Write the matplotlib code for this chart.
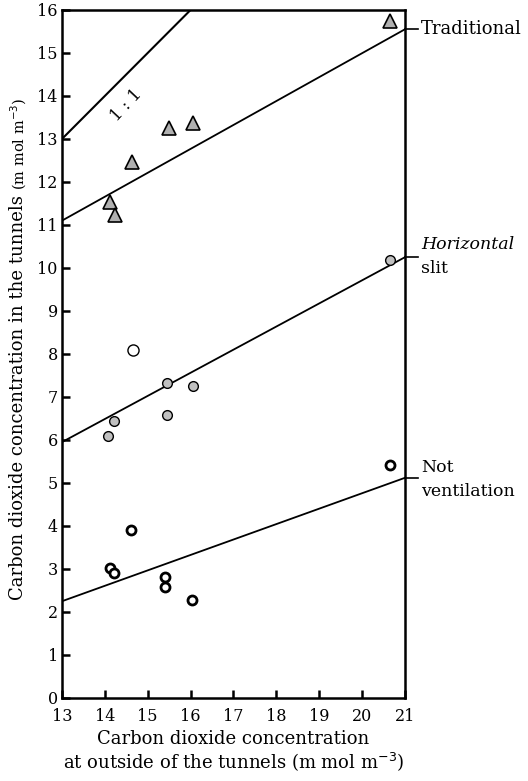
import matplotlib.pyplot as plt

plt.rcParams['font.family'] = ['DejaVu Serif']

# outside CO2 (x) vs CO2 in the tunnels (y), m mol m-3
trad_x = [14.12, 14.24, 14.63, 15.5, 16.05, 20.65]
trad_y = [11.53, 11.23, 12.47, 13.26, 13.37, 15.75]

slit_x = [14.08, 14.22, 15.44, 15.44, 16.06, 20.65]
slit_y = [6.09, 6.43, 6.57, 7.33, 7.26, 10.19]
slit_open_x = [14.65]
slit_open_y = [8.09]

notv_x = [14.12, 14.22, 14.61, 15.41, 15.41, 16.04, 20.65]
notv_y = [3.03, 2.90, 3.91, 2.82, 2.59, 2.29, 5.42]

# fitted lines, read at x = 13 and x = 21
line_x = [13, 21]
trad_line = [11.1, 15.55]
slit_line = [5.95, 10.25]
notv_line = [2.25, 5.12]
one_x = [13, 16.1]
one_y = [13, 16.1]

fig = plt.figure(figsize=(5.28, 7.81), dpi=100)
ax = fig.add_axes([0.1174, 0.1063, 0.6496, 0.881])

ax.plot(one_x, one_y, color='black', lw=1.5)
ax.plot(line_x, trad_line, color='black', lw=1.3)
ax.plot(line_x, slit_line, color='black', lw=1.3)
ax.plot(line_x, notv_line, color='black', lw=1.3)

ax.plot(trad_x, trad_y, '^', ms=10.5, mfc='#b0b0b0', mec='black', mew=1.2)
ax.plot(slit_x, slit_y, 'o', ms=7, mfc='#c0c0c0', mec='black', mew=1.0)
ax.plot(slit_open_x, slit_open_y, 'o', ms=8, mfc='white', mec='black', mew=1.0)
ax.plot(notv_x, notv_y, 'o', ms=6.5, mfc='white', mec='black', mew=2.0)

ax.text(14.51, 13.79, '1 : 1', rotation=47, ha='center', va='center', fontsize=12)

ax.set_xlim(13, 21)
ax.set_ylim(0, 16)
ax.set_xticks(range(13, 22))
ax.set_yticks(range(0, 17))
ax.tick_params(direction='in', length=6, width=1.8, labelsize=11.5, pad=3)
ax.tick_params(axis='x', pad=7)
for s in ax.spines.values():
    s.set_linewidth(1.8)

# labels to the right of the plot with short leader ticks
for yv in [trad_line[1], slit_line[1], notv_line[1]]:
    ax.plot([21, 21.3], [yv, yv], color='black', lw=1.2, clip_on=False)
ax.text(21.38, trad_line[1], 'Traditional', ha='left', va='center', fontsize=13)
ax.text(21.38, slit_line[1] + 0.3, 'Horizontal', ha='left', va='center', fontsize=12.5, style='italic')
ax.text(21.38, slit_line[1] - 0.27, 'slit', ha='left', va='center', fontsize=12.5)
ax.text(21.38, notv_line[1] + 0.25, 'Not', ha='left', va='center', fontsize=12.5)
ax.text(21.38, notv_line[1] - 0.33, 'ventilation', ha='left', va='center', fontsize=12.5)

ax.set_xlabel('Carbon dioxide concentration\nat outside of the tunnels (m mol m$^{-3}$)', fontsize=13, linespacing=1.1)

# y label: main part larger, units smaller
ymain = ax.text(-0.127, 0.142, 'Carbon dioxide concentration in the tunnels', transform=ax.transAxes,
                rotation=90, rotation_mode='anchor', ha='left', va='center', fontsize=13)
fig.canvas.draw()
bb = ymain.get_window_extent().transformed(ax.transAxes.inverted())
ax.text(-0.127, bb.y1 + 0.008, '(m mol m$^{-3}$)', transform=ax.transAxes,
        rotation=90, rotation_mode='anchor', ha='left', va='center', fontsize=10.5)

fig.savefig('out.png', dpi=100)
